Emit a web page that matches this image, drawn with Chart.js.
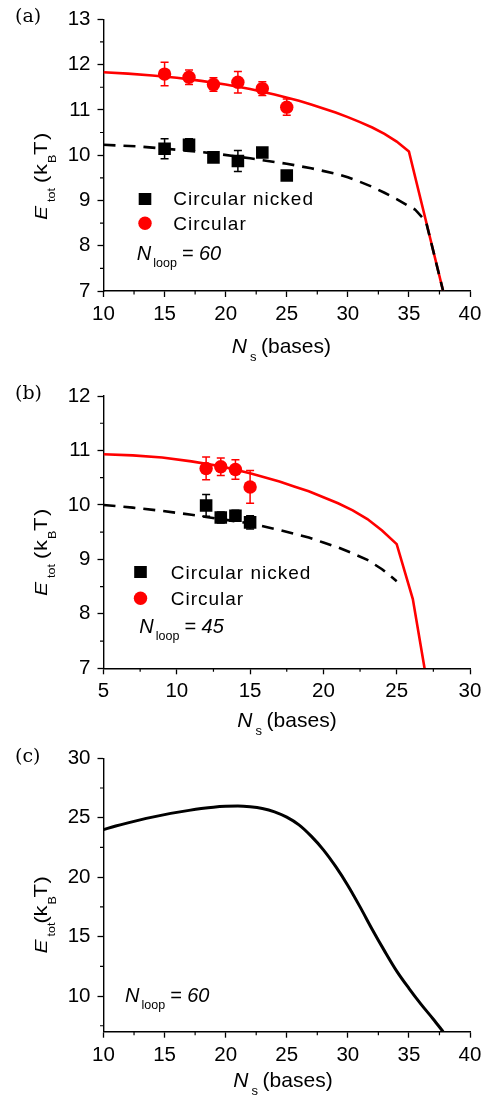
<!DOCTYPE html>
<html>
<head>
<meta charset="utf-8">
<script src="https://cdn.jsdelivr.net/npm/chart.js@4.4.1/dist/chart.umd.min.js"></script>
<style>
  html, body { margin: 0; padding: 0; background: #fff; }
  body { width: 488px; height: 1099px; position: relative; overflow: hidden; font-family: "Liberation Sans", Arial, sans-serif; }
  .panel { position: absolute; left: 0; width: 488px; }
  #fontwarm { position: absolute; left: -999px; top: 0; font-size: 20px; }
</style>
</head>
<body>
<div id="fontwarm"><span>Circular 0123</span><i>N E</i></div>
<div class="panel" style="top:0;height:365px"><canvas id="chartA"></canvas></div>
<div class="panel" style="top:365px;height:372px"><canvas id="chartB"></canvas></div>
<div class="panel" style="top:737px;height:362px"><canvas id="chartC"></canvas></div>
<script>
// panel (a), N_loop = 60
const aNickedX = [15, 17, 19, 21, 23, 25];
const aNickedY = [10.14, 10.23, 9.95, 9.87, 10.06, 9.55];
const aNickedErr = [0.22, 0.13, 0.08, 0.23, 0.08, 0.05];
const aCircX = [15, 17, 19, 21, 23, 25];
const aCircY = [11.79, 11.72, 11.56, 11.61, 11.47, 11.06];
const aCircErr = [0.26, 0.16, 0.15, 0.24, 0.15, 0.18];
const aModelNickedX = [10, 13, 16, 19, 22, 25, 27, 29, 30, 31, 32, 33, 34, 35, 35.5, 36.4, 37.8];
const aModelNickedY = [10.23, 10.19, 10.12, 10.04, 9.93, 9.81, 9.71, 9.59, 9.51, 9.41, 9.30, 9.17, 9.03, 8.87, 8.80, 8.53, 7.0];
const aModelCircX = [10, 12, 14, 16, 18, 20, 22, 24, 26, 27, 28, 29, 30, 31, 32, 33, 34, 35, 37.8];
const aModelCircY = [11.83, 11.80, 11.76, 11.71, 11.64, 11.56, 11.46, 11.34, 11.20, 11.12, 11.03, 10.94, 10.84, 10.73, 10.61, 10.47, 10.30, 10.08, 7.0];
const aXTicks = [10, 15, 20, 25, 30, 35, 40];
const aYTicks = [7, 8, 9, 10, 11, 12, 13];

// panel (b), N_loop = 45
const bNickedX = [12, 13, 14, 15];
const bNickedY = [9.99, 9.77, 9.80, 9.68];
const bNickedErr = [0.20, 0.10, 0.10, 0.12];
const bCircX = [12, 13, 14, 15];
const bCircY = [10.67, 10.70, 10.65, 10.33];
const bCircErr = [0.21, 0.16, 0.18, 0.30];
const bModelNickedX = [5, 7, 9, 11, 13, 15, 17, 19, 20, 21, 22, 23, 24, 25];
const bModelNickedY = [10.0, 9.95, 9.89, 9.82, 9.74, 9.66, 9.54, 9.40, 9.31, 9.22, 9.11, 8.99, 8.82, 8.60];
const bModelCircX = [5, 7, 9, 11, 13, 15, 17, 18, 19, 20, 21, 22, 23, 24, 25, 26.1, 26.9];
const bModelCircY = [10.93, 10.91, 10.87, 10.80, 10.71, 10.58, 10.43, 10.34, 10.25, 10.14, 10.03, 9.90, 9.74, 9.53, 9.28, 8.27, 7.0];
const bXTicks = [5, 10, 15, 20, 25, 30];
const bYTicks = [7, 8, 9, 10, 11, 12];

// panel (c), N_loop = 60
const cX = [10, 11, 12, 13, 14, 15, 16, 17, 18, 19, 20, 21, 22, 23, 24, 25, 26, 27, 28, 29, 30, 31, 32, 33, 34, 35, 36, 37, 37.8];
const cY = [24.0, 24.3, 24.57, 24.82, 25.05, 25.26, 25.45, 25.62, 25.77, 25.89, 25.96, 25.98, 25.92, 25.78, 25.5, 25.05, 24.4, 23.45, 22.3, 20.9, 19.3, 17.5, 15.6, 13.8, 12.1, 10.65, 9.3, 8.05, 7.0];
const cXTicks = [10, 15, 20, 25, 30, 35, 40];
const cYTicks = [10, 15, 20, 25, 30];

const SANS = '"Liberation Sans", Arial, sans-serif';
const RED = '#ff0000';

function pts(xs, ys) {
  return xs.map((x, i) => ({ x: x, y: ys[i] }));
}

// draws text pieces at fixed offsets along the baseline (for subscripts)
function drawParts(ctx, parts, x, y) {
  parts.forEach(p => {
    ctx.font = (p.italic ? 'italic ' : '') + p.size + 'px ' + SANS;
    ctx.fillText(p.t, x + p.at, y + (p.dy || 0));
  });
}

const xTitle = [
  { t: 'N', italic: true, size: 21, at: 0 },
  { t: 's', size: 13, at: 18.3, dy: 8 },
  { t: '(bases)', size: 21, at: 29.3 }
];
// offsets of E, tot, (, k, B, T, ) along the rotated title
function yTitle(at) {
  return [
    { t: 'E', italic: true, size: 21, at: at[0] },
    { t: 'tot', size: 12.5, at: at[1], dy: 10 },
    { t: '(', size: 22, at: at[2] },
    { t: 'k', size: 22, at: at[3] },
    { t: 'B', size: 12.5, at: at[4], dy: 11.5 },
    { t: 'T', size: 22, at: at[5] },
    { t: ')', size: 22, at: at[6] }
  ];
}
function loopLabel(n) {
  return [
    { t: 'N', italic: true, size: 20, at: 0 },
    { t: 'loop', size: 12.5, at: 16.5, dy: 7 },
    { t: '= ' + n, italic: true, size: 20, at: 45 }
  ];
}

const errorBars = {
  id: 'errorBars',
  afterDatasetsDraw(chart) {
    const ctx = chart.ctx, ys = chart.scales.y;
    chart.data.datasets.forEach((ds, i) => {
      if (!ds.errors) return;
      const meta = chart.getDatasetMeta(i);
      ctx.save();
      ctx.strokeStyle = ds.borderColor;
      ctx.lineWidth = 1.5;
      meta.data.forEach((el, j) => {
        const v = ds.data[j].y, e = ds.errors[j];
        const t = ys.getPixelForValue(v + e), b = ys.getPixelForValue(v - e);
        ctx.beginPath();
        ctx.moveTo(el.x, t); ctx.lineTo(el.x, b);
        ctx.moveTo(el.x - 4, t); ctx.lineTo(el.x + 4, t);
        ctx.moveTo(el.x - 4, b); ctx.lineTo(el.x + 4, b);
        ctx.stroke();
      });
      ctx.restore();
    });
  }
};

const minorTicks = {
  id: 'minorTicks',
  afterDraw(chart, args, o) {
    const ctx = chart.ctx, area = chart.chartArea;
    ctx.save();
    ctx.strokeStyle = '#000';
    ctx.lineWidth = 1.2;
    ctx.beginPath();
    const xs = chart.scales.x, ys = chart.scales.y;
    for (let v = xs.min + o.x / 2; v < xs.max; v += o.x) {
      const px = xs.getPixelForValue(v);
      ctx.moveTo(px, area.bottom); ctx.lineTo(px, area.bottom + 3.5);
    }
    for (let v = o.yFrom; v < ys.max; v += o.y) {
      const py = ys.getPixelForValue(v);
      ctx.moveTo(area.left, py); ctx.lineTo(area.left - 3.5, py);
    }
    ctx.stroke();
    ctx.restore();
  }
};

const decor = {
  id: 'decor',
  afterDraw(chart, args, o) {
    const ctx = chart.ctx, top = o.top;
    ctx.save();
    ctx.fillStyle = '#000';
    ctx.textBaseline = 'alphabetic';
    ctx.textAlign = 'left';
    ctx.font = '19px "DejaVu Serif", serif';
    ctx.fillText(o.panel, 15, o.panelY - top);
    drawParts(ctx, xTitle, o.xTitle[0], o.xTitle[1] - top);
    if (o.legend) {
      const L = o.legend, ds = chart.data.datasets;
      ctx.fillStyle = ds[0].backgroundColor;
      ctx.fillRect(L.mx - 6.3, L.m1 - top - 6, 12.6, 12);
      ctx.fillStyle = ds[1].backgroundColor;
      ctx.beginPath();
      ctx.arc(L.mx, L.m2 - top, 6.7, 0, Math.PI * 2);
      ctx.fill();
      ctx.fillStyle = '#000';
      ctx.font = '19px ' + SANS;
      ctx.letterSpacing = '1px';
      ctx.fillText(ds[0].label, L.tx, L.b1 - top);
      ctx.fillText(ds[1].label, L.tx, L.b2 - top);
      ctx.letterSpacing = '0px';
    }
    drawParts(ctx, loopLabel(o.loop[2]), o.loop[0], o.loop[1] - top);
    // y title: rotated, glyphs a bit squeezed like the original figure
    ctx.translate(47, o.yTitle[0] - top);
    ctx.rotate(-Math.PI / 2);
    ctx.scale(1, 0.8);
    drawParts(ctx, yTitle(o.yTitle[1]), 0, 0);
    ctx.restore();
  }
};

function axis(min, max, ticks, pad, fit) {
  return {
    type: 'linear', min: min, max: max,
    afterBuildTicks: s => { s.ticks = ticks.map(v => ({ value: v })); },
    afterFit: fit,
    grid: { drawOnChartArea: false, drawTicks: true, tickLength: 6, tickWidth: 1.3, tickColor: '#000' },
    border: { display: true, color: '#000', width: 1.4 },
    ticks: { padding: pad, color: '#000', font: { family: SANS, size: 20.5 } }
  };
}

function makePanel(id, p) {
  return new Chart(document.getElementById(id), {
    type: 'scatter',
    data: { datasets: p.datasets },
    options: {
      responsive: true, maintainAspectRatio: false, animation: false,
      layout: { padding: { left: 0, right: 18, top: p.area[0] - p.top, bottom: 0 } },
      scales: {
        x: axis(p.x[0], p.x[1], p.x[2], 5, s => { s.height = p.height - (p.area[1] - p.top); }),
        y: axis(p.y[0], p.y[1], p.y[2], 7, s => { s.width = 103.5; })
      },
      plugins: {
        legend: { display: false },
        tooltip: { enabled: false },
        minorTicks: p.minor,
        decor: p.decor
      }
    },
    plugins: [errorBars, minorTicks, decor]
  });
}

function markerSets(nx, ny, ne, cx, cy, ce) {
  return [
    { label: 'Circular nicked', data: pts(nx, ny), errors: ne, showLine: false, pointStyle: 'rect',
      pointRadius: 8.9, backgroundColor: '#000', borderColor: '#000', borderWidth: 0 },
    { label: 'Circular', data: pts(cx, cy), errors: ce, showLine: false, pointStyle: 'circle',
      pointRadius: 6.7, backgroundColor: RED, borderColor: RED, borderWidth: 0 }
  ];
}
function modelSets(nx, ny, cx, cy) {
  return [
    { label: 'model, nicked', data: pts(nx, ny), showLine: true, borderColor: '#000', borderWidth: 2.6,
      borderDash: [12, 8], pointRadius: 0, tension: 0 },
    { label: 'model, circular', data: pts(cx, cy), showLine: true, borderColor: RED, borderWidth: 2.6,
      pointRadius: 0, tension: 0 }
  ];
}

const titleWide = [0, 18, 37, 45, 57, 65, 80];
const titleNarrow = [0, 17, 30, 37, 49, 56, 70];

function build() {
  makePanel('chartA', {
    top: 0, height: 365, area: [17.5, 291],
    x: [10, 40, aXTicks], y: [7, 13, aYTicks],
    datasets: markerSets(aNickedX, aNickedY, aNickedErr, aCircX, aCircY, aCircErr)
      .concat(modelSets(aModelNickedX, aModelNickedY, aModelCircX, aModelCircY)),
    minor: { x: 5, y: 1, yFrom: 7.5 },
    decor: {
      top: 0, panel: '(a)', panelY: 22, xTitle: [231.7, 353], yTitle: [220, titleWide], loop: [136.7, 260, 60],
      legend: { mx: 145, m1: 199, m2: 223.3, tx: 173.3, b1: 205, b2: 230 }
    }
  });

  makePanel('chartB', {
    top: 365, height: 372, area: [396, 668.3],
    x: [5, 30, bXTicks], y: [7, 12, bYTicks],
    datasets: markerSets(bNickedX, bNickedY, bNickedErr, bCircX, bCircY, bCircErr)
      .concat(modelSets(bModelNickedX, bModelNickedY, bModelCircX, bModelCircY)),
    minor: { x: 5, y: 1, yFrom: 7.5 },
    decor: {
      top: 365, panel: '(b)', panelY: 399, xTitle: [237.3, 726.5], yTitle: [596, titleWide], loop: [139.3, 633.3, 45],
      legend: { mx: 140.5, m1: 572, m2: 598.3, tx: 170.7, b1: 579, b2: 605 }
    }
  });

  makePanel('chartC', {
    top: 737, height: 362, area: [758.3, 1031.7],
    x: [10, 40, cXTicks], y: [7, 30, cYTicks],
    datasets: [
      { label: 'model', data: pts(cX, cY), showLine: true, borderColor: '#000', borderWidth: 3,
        pointRadius: 0, cubicInterpolationMode: 'monotone' }
    ],
    minor: { x: 5, y: 5, yFrom: 7.5 },
    decor: {
      top: 737, panel: '(c)', panelY: 762, xTitle: [233.3, 1086.5], yTitle: [953.5, titleNarrow], loop: [125, 1001.7, 60]
    }
  });
}

Promise.all([
  document.fonts.load('20px "Liberation Sans"'),
  document.fonts.load('italic 20px "Liberation Sans"'),
  document.fonts.load('19px "DejaVu Serif"')
]).catch(() => {}).then(build);
</script>
</body>
</html>
